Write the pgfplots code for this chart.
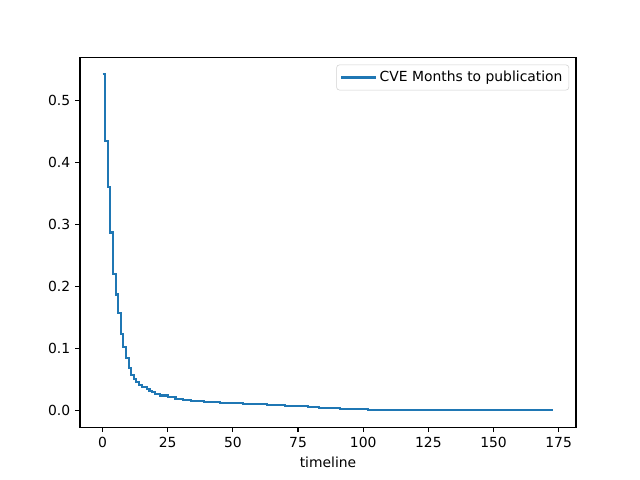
\documentclass[border=0pt]{standalone}
\usepackage{pgfplots}
\pgfplotsset{compat=1.18}
\usepackage{fontspec}
\setmainfont{DejaVu Sans}
\definecolor{tabblue}{HTML}{1F77B4}
\begin{document}
\begin{tikzpicture}
\path[use as bounding box] (-57.6pt,-38.02pt) rectangle (403.2pt,307.58pt);
\begin{axis}[
  at={(0,0)}, anchor=south west,
  width=357.12pt, height=266.11pt, scale only axis,
  xmin=-8.65, xmax=181.65, ymin=-0.0271, ymax=0.5691,
  xtick={0,25,50,75,100,125,150,175},
  ytick={0,0.1,0.2,0.3,0.4,0.5},
  yticklabel style={/pgf/number format/.cd,fixed,fixed zerofill,precision=1},
  /pgf/number format/assume math mode=true,
  tick align=outside, tick pos=lower,
  major tick length=3.5pt,
  every tick/.style={black, line width=0.8pt},
  axis line style={line width=0.8pt},
  tick label style={font=\fontsize{10pt}{12pt}\selectfont},
  label style={font=\fontsize{10pt}{12pt}\selectfont},
  xlabel={timeline},
  legend style={at={(0.986,0.981)}, anchor=north east, draw=black!18, rounded corners=2pt, font=\fontsize{10pt}{12pt}\selectfont, inner xsep=2.5pt, inner ysep=2.5pt},
  legend cell align=left,
  legend image code/.code={\draw[#1] (0pt,0pt) -- (22pt,0pt); \path (0pt,0pt) -- (25pt,0pt);},
]
\addplot[const plot, color=tabblue, line width=1.5pt] coordinates {
(0,0.542) (1,0.434) (2,0.360) (3,0.287) (4,0.220) (5,0.187) (6,0.157) (7,0.123)
(8,0.103) (9,0.085) (10,0.069) (11,0.057) (12,0.051) (13,0.046) (14,0.041)
(15,0.037) (17,0.034) (18,0.032) (19,0.029) (20,0.026) (22,0.024) (25,0.0216)
(28,0.019) (31,0.0173) (34,0.015) (39,0.0134) (45,0.0113) (54,0.0102) (63,0.0086)
(70,0.007) (79,0.0054) (83,0.0032) (91,0.0016) (102,0.0006) (173,0.0006)
};
\addlegendentry{CVE Months to publication}
\end{axis}
\end{tikzpicture}
\end{document}
